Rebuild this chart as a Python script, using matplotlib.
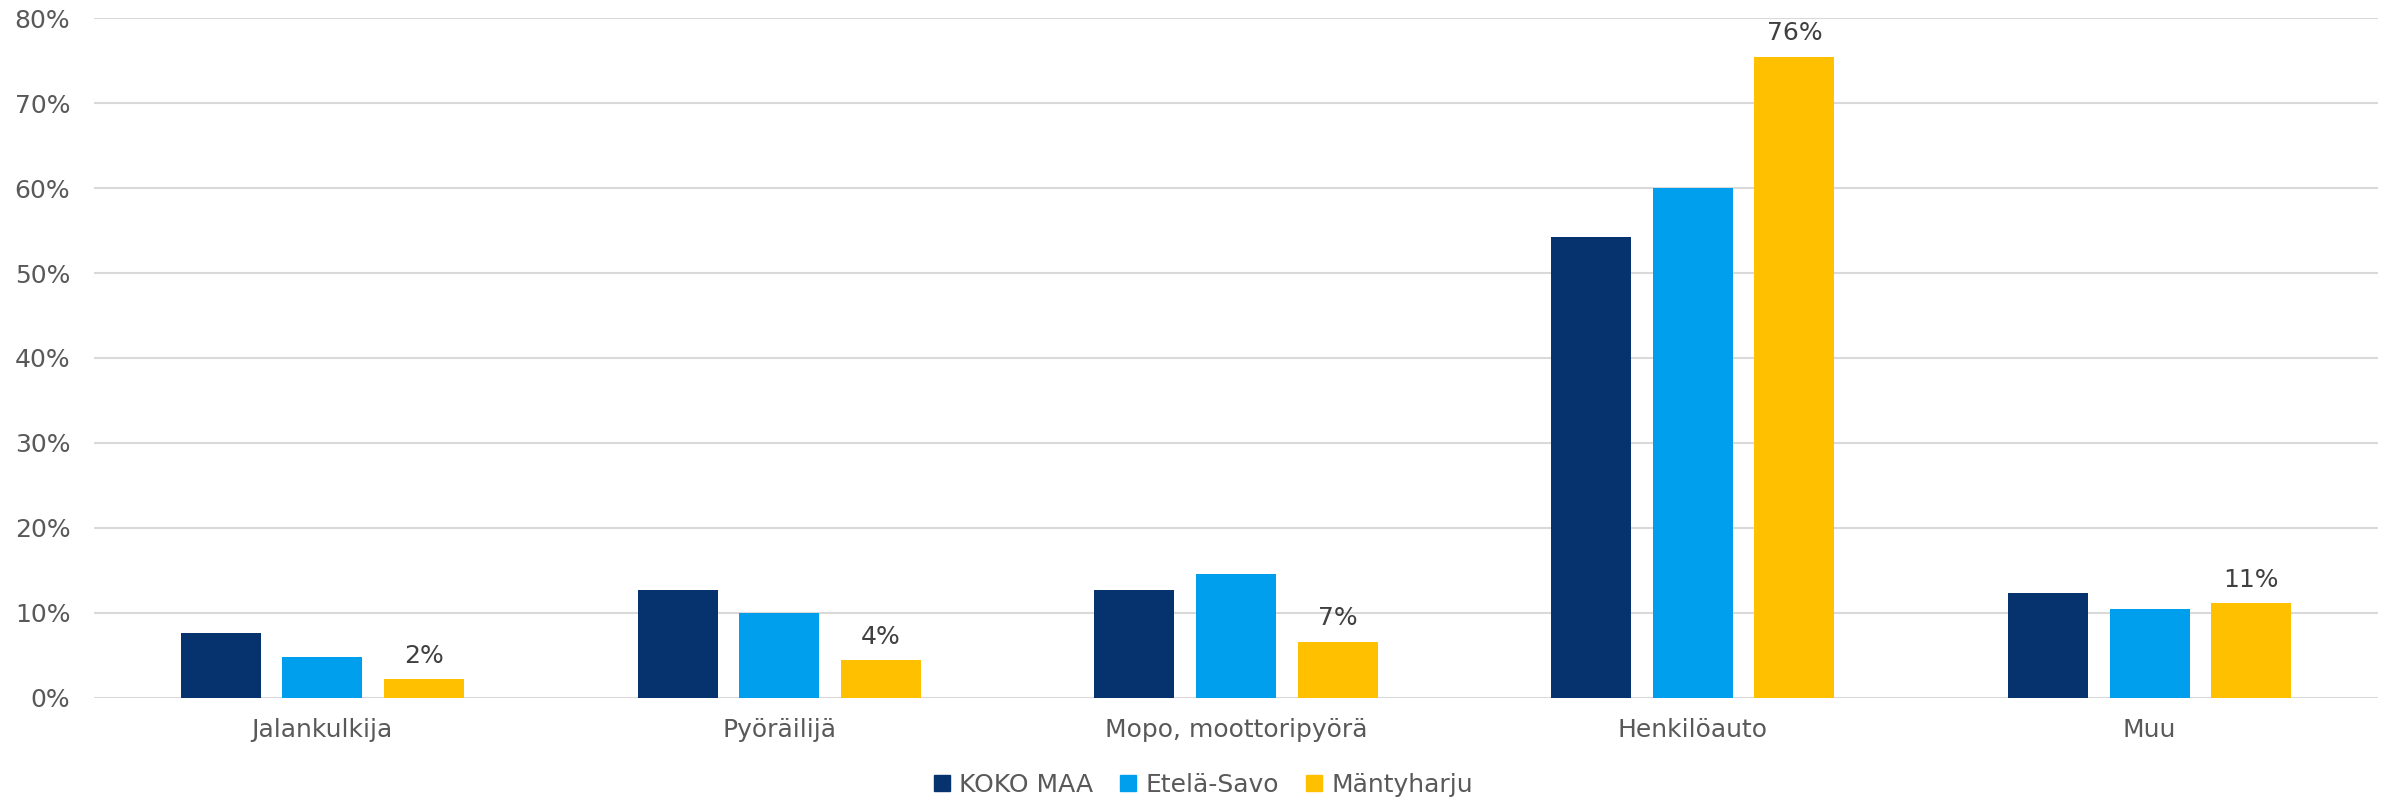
import matplotlib

matplotlib.use("Agg")
import matplotlib.pyplot as plt
import numpy as np
from matplotlib.lines import Line2D
from matplotlib.ticker import PercentFormatter

categories = ["Jalankulkija", "Pyöräilijä", "Mopo, moottoripyörä", "Henkilöauto", "Muu"]
series_names = ["KOKO MAA", "Etelä-Savo", "Mäntyharju"]
koko_maa = [0.076, 0.127, 0.127, 0.543, 0.123]
etela_savo = [0.048, 0.099, 0.145, 0.600, 0.104]
mantyharju = [0.022, 0.044, 0.066, 0.755, 0.111]
colors = ["#06326E", "#009FEE", "#FFC000"]

plt.rcParams["font.family"] = ["DejaVu Sans"]

fig = plt.figure(figsize=(23.9, 7.97), dpi=100)
ax = fig.add_axes([0.0393, 0.1248, 0.9557, 0.8522])

x = np.arange(len(categories))
width = 0.175
pitch = 0.2224
values = [koko_maa, etela_savo, mantyharju]
for i, (name, vals, color) in enumerate(zip(series_names, values, colors)):
    bars = ax.bar(x + (i - 1) * pitch, vals, width, color=color, label=name, zorder=3)
    if name == "Mäntyharju":
        ax.bar_label(
            bars,
            labels=[f"{v * 100:.0f}%" for v in vals],
            padding=8,
            fontsize=18,
            color="#404040",
        )

ax.set_xlim(-0.5, len(categories) - 0.5)
ax.set_ylim(0, 0.8)
ax.set_yticks(np.arange(0, 0.81, 0.1))
ax.yaxis.set_major_formatter(PercentFormatter(1.0, decimals=0))
ax.set_xticks(x)
ax.set_xticklabels(categories)
ax.grid(axis="y", color="#D9D9D9", linewidth=1.5, zorder=0)
for spine in ax.spines.values():
    spine.set_visible(False)
ax.tick_params(axis="both", length=0, labelsize=18, colors="#595959")
ax.tick_params(axis="y", pad=17)
ax.tick_params(axis="x", pad=15)

handles = [
    Line2D([], [], marker="s", linestyle="", markersize=11, color=c) for c in colors
]
fig.legend(
    handles,
    series_names,
    loc="lower center",
    bbox_to_anchor=(0.5, -0.028),
    ncol=3,
    frameon=False,
    fontsize=18,
    labelcolor="#595959",
    handletextpad=-0.3,
    columnspacing=0.4,
)

fig.savefig("out.png", dpi=100)
